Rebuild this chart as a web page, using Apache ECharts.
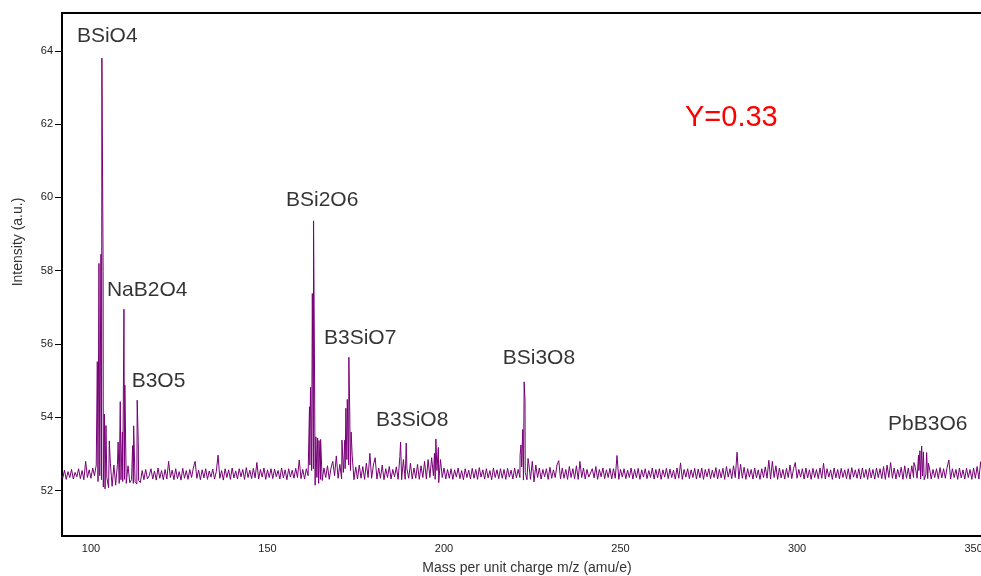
<!DOCTYPE html>
<html><head><meta charset="utf-8">
<script src="https://cdn.jsdelivr.net/npm/echarts@6/dist/echarts.min.js"></script>
<style>html,body{margin:0;padding:0;background:#fff}#c{width:981px;height:576px}</style>
</head><body><div id="c"></div>
<script>
// m/z grid step for baseline arrays (amu)
const STEP = 0.5;
// baseline intensity, segment starting at m/z 91.5
const baseA = [
52.41,52.34,52.56,52.31,52.52,52.36,52.58,52.32,52.50,52.38,
52.60,52.33,52.55,52.30,52.80,52.36,52.57,52.34,52.62,52.41,
52.70,52.25,52.41,52.30,52.10,52.05,52.36,52.08,52.75,52.12,
52.70,52.15,52.72,52.20,52.30,52.25,52.31,52.20,52.68,52.22,
52.30,52.20,52.25,52.18,52.28,52.22,52.55,52.30,52.58,52.32,
52.41,52.60,52.32,52.54,52.29,52.62,52.34,52.55,52.30,52.58,
52.32,52.80,52.36,52.56,52.30,52.60,52.33,52.52,52.29,52.61,
52.34,52.55,52.31,52.58,52.36,52.62,52.80,52.34,52.56,52.30,
52.57,52.35,52.60,52.31,52.54,52.37,52.59,52.32,52.52,52.97,
52.34,52.55,52.29,52.60,52.36,52.57,52.31,52.62,52.35,52.54];
// segment starting at m/z 141.5
const baseB = [
52.32,52.60,52.38,52.58,52.31,52.63,52.36,52.56,52.33,52.61,
52.35,52.77,52.32,52.58,52.37,52.62,52.31,52.57,52.36,52.60,
52.33,52.59,52.38,52.55,52.32,52.62,52.35,52.57,52.30,52.60,
52.37,52.56,52.34,52.61,52.36,52.84,52.33,52.58,52.32,52.60,
52.41,52.70,52.55,52.60,52.15,52.36,52.20,52.31,52.28,52.62,
52.36,52.68,52.31,52.62,52.80,52.41,52.95,52.34,52.72,52.32,
52.50,52.60,52.85,52.70,52.55,52.95,52.30,52.65,52.32,52.70,
52.34,52.66,52.31,52.75,52.36,53.02,52.34,52.70,52.90,52.32,
52.62,52.34,52.70,52.30,52.60,52.36,52.66,52.32,52.58,52.38,
52.65,52.31,52.93,52.30,52.85,52.31,52.60,52.34,52.75,52.32];
// segment starting at m/z 191.5
const baseC = [
52.62,52.34,52.72,52.31,52.68,52.36,52.80,52.32,52.85,52.36,
52.90,52.41,52.31,52.55,52.22,52.85,52.36,52.62,52.32,52.58,
52.34,52.60,52.31,52.57,52.37,52.62,52.33,52.55,52.30,52.60,
52.36,52.56,52.32,52.61,52.34,52.58,52.31,52.63,52.37,52.57,
52.32,52.60,52.35,52.55,52.30,52.62,52.36,52.57,52.33,52.60,
52.34,52.58,52.31,52.61,52.37,52.56,52.32,52.62,52.35,52.58,
52.36,52.65,52.29,52.50,52.30,52.75,52.31,52.80,52.24,52.70,
52.36,52.62,52.32,52.58,52.38,52.60,52.31,52.64,52.34,52.57,
52.36,52.70,52.82,52.32,52.62,52.34,52.58,52.31,52.66,52.36,
52.60,52.33,52.68,52.31,52.80,52.36,52.62,52.32,52.58,52.37];
// segment starting at m/z 241.5
const baseD = [
52.32,52.60,52.35,52.66,52.31,52.58,52.38,52.62,52.33,52.57,
52.36,52.61,52.32,52.60,52.34,52.96,52.31,52.58,52.37,52.60,
52.33,52.56,52.36,52.62,52.32,52.58,52.35,52.61,52.31,52.57,
52.37,52.60,52.33,52.55,52.36,52.62,52.32,52.58,52.35,52.60,
52.31,52.57,52.37,52.61,52.33,52.59,52.36,52.56,52.32,52.62,
52.34,52.76,52.31,52.58,52.37,52.60,52.33,52.57,52.36,52.61,
52.32,52.59,52.35,52.62,52.31,52.58,52.38,52.60,52.33,52.56,
52.36,52.63,52.32,52.58,52.35,52.61,52.31,52.66,52.37,52.60,
52.33,52.68,52.36,53.05,52.32,52.72,52.34,52.64,52.31,52.60,
52.37,52.58,52.32,52.62,52.35,52.57,52.31,52.60,52.36,52.65];
// segment starting at m/z 291.5
const baseE = [
52.34,52.83,52.32,52.80,52.36,52.68,52.31,52.62,52.35,52.58,
52.32,52.61,52.36,52.70,52.33,52.60,52.77,52.34,52.58,52.37,
52.60,52.32,52.62,52.35,52.57,52.31,52.61,52.36,52.58,52.33,
52.62,52.34,52.75,52.32,52.60,52.37,52.57,52.31,52.62,52.35,
52.58,52.32,52.61,52.36,52.57,52.33,52.60,52.31,52.63,52.37,
52.57,52.34,52.60,52.32,52.62,52.36,52.58,52.31,52.61,52.35,
52.58,52.32,52.62,52.36,52.60,52.33,52.66,52.31,52.70,52.36,
52.77,52.34,52.62,52.32,52.58,52.37,52.64,52.31,52.68,52.34,
52.62,52.32,52.68,52.36,52.64,52.34,52.55,52.32,52.40,52.30,
52.45,52.33,52.62,52.32,52.58,52.36,52.60,52.33,52.63,52.35];
// segment starting at m/z 341.5
const baseF = [
52.60,52.34,52.64,52.84,52.32,52.60,52.36,52.58,52.31,52.62,
52.35,52.57,52.32,52.61,52.36,52.58,52.31,52.62,52.34,52.66,
52.32,52.79,52.36];
const segStarts = [91.5, 141.5, 191.5, 241.5, 291.5, 341.5];

// peak sticks (m/z, intensity)
const peakMz = [
101.8,102.27,102.83,103.1,103.45,103.8,104.25,105.2,107.7,108.3,108.9,109.35,109.6,111.8,112.1,113.1,113.4,
161.9,162.05,162.2,162.7,163.05,163.3,163.7,164.2,164.6,165.05,
171.1,171.9,172.2,172.6,173.05,173.3,173.7,
187.7,189.3,
197.3,197.7,198.4,
221.55,221.8,222.3,222.7,222.95,223.8,
333.1,334.4,334.8,335.3,335.8,336.7,337.2];
const peakVal = [
55.52,58.2,58.45,63.8,57.97,54.09,53.78,53.36,53.33,54.43,53.6,56.95,54.88,53.23,53.77,54.47,53.34,
54.29,53.65,54.82,57.38,59.36,55.75,53.47,53.44,53.37,53.4,
53.38,53.38,54.25,54.49,55.64,54.12,53.6,
53.33,53.3,
53.02,53.41,53.18,
52.97,53.25,53.67,54.97,54.47,52.88,
52.77,52.97,53.09,53.22,53.06,53.04,52.75];

// peak labels anchored in data space (m/z, intensity)
const labelText = ['BSiO4','NaB2O4','B3O5','BSi2O6','B3SiO7','B3SiO8','BSi3O8','PbB3O6'];
const labelMz   = [96.03, 104.53, 111.53, 155.24, 166.01, 180.74, 216.63, 325.78];
const labelVal  = [64.40, 57.47, 54.98, 59.93, 56.17, 53.93, 55.62, 53.82];

const xTicks = [100,150,200,250,300,350];
const yTicks = [52,54,56,58,60,62,64];

const segs = [baseA, baseB, baseC, baseD, baseE, baseF];
const pts = [];
segs.forEach((arr, k) => arr.forEach((v, i) => pts.push([segStarts[k] + i * STEP, v])));
peakMz.forEach((m, i) => pts.push([m, peakVal[i]]));
pts.sort((a, b) => a[0] - b[0]);

const FONT = 'Liberation Sans, Arial, sans-serif';
const chart = echarts.init(document.getElementById('c'), null, {renderer: 'canvas'});
chart.setOption({
  animation: false,
  grid: {left: 62, right: 0, top: 13, bottom: 40, containLabel: false, outerBoundsMode: 'none'},
  xAxis: [{
    type: 'value', min: 91.8, max: 352.1,
    axisLine: {show: true, onZero: false, lineStyle: {color: '#000', width: 2}},
    axisTick: {show: false},
    splitLine: {show: false},
    axisLabel: {customValues: xTicks, color: '#222', fontSize: 11, fontFamily: FONT, margin: 7}
  }, {
    type: 'value', position: 'top', min: 91.8, max: 352.1,
    axisLine: {show: true, onZero: false, lineStyle: {color: '#000', width: 2}},
    axisTick: {show: false}, axisLabel: {show: false}, splitLine: {show: false}
  }],
  yAxis: {
    type: 'value', min: 50.765, max: 65.03,
    axisLine: {show: true, onZero: false, lineStyle: {color: '#000', width: 2}},
    axisTick: {show: true, length: 7, customValues: yTicks, lineStyle: {color: '#000', width: 1}},
    splitLine: {show: false},
    axisLabel: {customValues: yTicks, color: '#222', fontSize: 11, fontFamily: FONT, margin: 9}
  },
  series: [{
    type: 'line', data: pts, showSymbol: false, symbol: 'none', silent: true,
    lineStyle: {color: '#780078', width: 1}, clip: true
  }, {
    type: 'scatter', symbolSize: 0, silent: true,
    data: labelMz.map((m, i) => ({value: [m, labelVal[i]], name: labelText[i]})),
    label: {show: true, position: 'right', distance: 0, formatter: p => p.name,
      color: '#000', fontSize: 21, fontFamily: FONT}
  }],
  graphic: [
    {type: 'text', x: 18, y: 242, rotation: Math.PI / 2,
     style: {text: 'Intensity (a.u.)', fill: '#333', font: '14px ' + FONT, align: 'center', verticalAlign: 'middle', textAlign: 'center', textVerticalAlign: 'middle'}},
    {type: 'text', x: 527, y: 568,
     style: {text: 'Mass per unit charge m/z (amu/e)', fill: '#333', font: '14px ' + FONT, align: 'center', verticalAlign: 'middle', textAlign: 'center', textVerticalAlign: 'middle'}},
    {type: 'text', x: 685, y: 118,
     style: {text: 'Y=0.33', fill: '#ff0000', font: '29px ' + FONT, align: 'left', verticalAlign: 'middle', textAlign: 'left', textVerticalAlign: 'middle'}}
  ]
});
</script></body></html>
